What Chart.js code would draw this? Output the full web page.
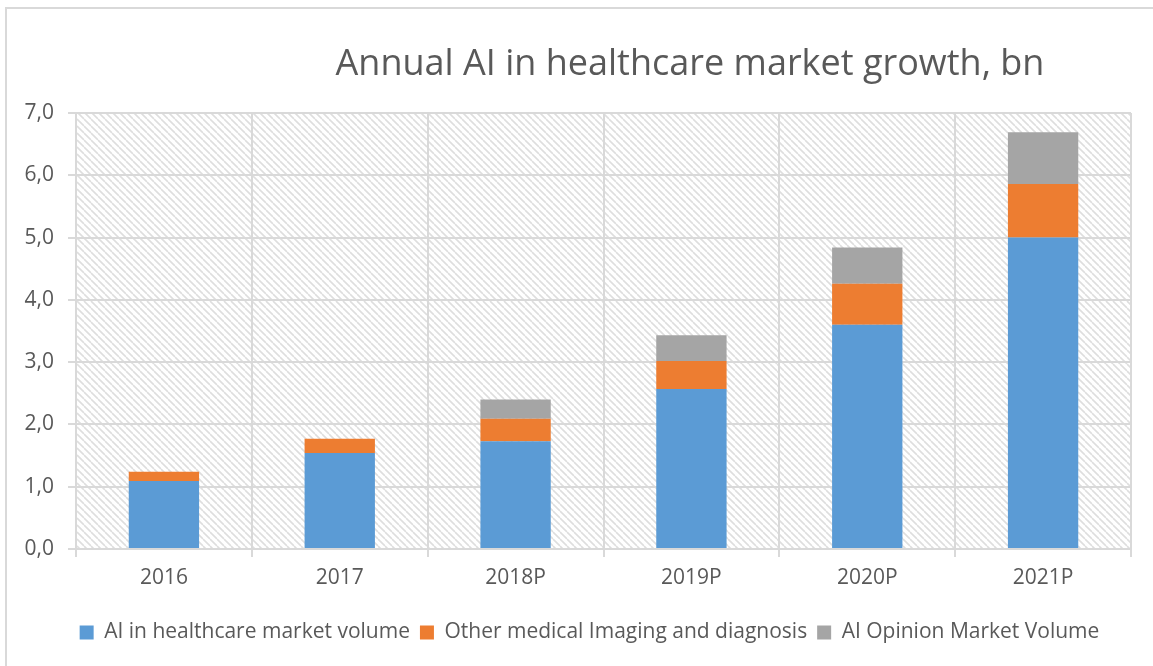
<!DOCTYPE html>
<html>
<head>
<meta charset="utf-8">
<script src="https://cdn.jsdelivr.net/npm/chart.js@4"></script>
<style>
    body { margin: 0; background: #fff; }
    #wrap { position: relative; width: 1153px; height: 666px; }
    #frame { position: absolute; left: 5px; top: 7px; right: 0; bottom: 0;
             border-left: 2px solid #d9d9d9; border-top: 2px solid #d9d9d9; }
    #marketChart { position: absolute; left: 0; top: 0; }
</style>
</head>
<body>
<div id="wrap">
    <div id="frame"></div>
    <canvas id="marketChart" width="1153" height="666"></canvas>
</div>
<script>
var chartTitle = "Annual AI in healthcare market growth, bn";
var years = ["2016", "2017", "2018P", "2019P", "2020P", "2021P"];
var healthcareVolume = [1.09, 1.54, 1.73, 2.57, 3.60, 5.00];
var imagingDiagnosis = [0.15, 0.23, 0.36, 0.45, 0.66, 0.86];
var opinionVolume = [0, 0, 0.31, 0.41, 0.58, 0.83];
var yTicks = [0, 1, 2, 3, 4, 5, 6, 7];

var textColor = '#595959';
var fontFamily = "'Open Sans', sans-serif";

// diagonal hatch like the excel plot area fill
function makeHatch() {
    var s = 7;
    var c = document.createElement('canvas');
    c.width = s; c.height = s;
    var g = c.getContext('2d');
    g.fillStyle = '#ffffff';
    g.fillRect(0, 0, s, s);
    g.strokeStyle = '#dedede';
    g.lineWidth = 1.6;
    for (var k = -s; k <= s; k += s) {
        g.beginPath();
        g.moveTo(k, 0);
        g.lineTo(k + s, s);
        g.stroke();
    }
    return g.createPattern(c, 'repeat');
}

var plotBackground = {
    id: 'plotBackground',
    afterLayout: function (chart) {
        // excel centres the legend a bit right of the canvas middle
        chart.legend.left += 24;
        chart.legend.right += 24;
    },
    beforeDraw: function (chart) {
        var a = chart.chartArea;
        var ctx = chart.ctx;
        ctx.save();
        ctx.fillStyle = makeHatch();
        ctx.fillRect(a.left, a.top, a.right - a.left, a.bottom - a.top);
        ctx.restore();
    }
};

var titleText = {
    id: 'titleText',
    afterDraw: function (chart) {
        var ctx = chart.ctx;
        ctx.save();
        ctx.font = "36px " + fontFamily;
        ctx.fillStyle = textColor;
        ctx.textAlign = 'center';
        ctx.textBaseline = 'alphabetic';
        ctx.fillText(chartTitle, 690, 75);
        ctx.restore();
    }
};

var ctx = document.getElementById('marketChart').getContext('2d');
var chart = new Chart(ctx, {
    type: 'bar',
    data: {
        labels: years,
        datasets: [{
            label: 'AI in healthcare market volume',
            data: healthcareVolume,
            backgroundColor: '#5b9bd5'
        },
        {
            label: 'Other medical Imaging and diagnosis',
            data: imagingDiagnosis,
            backgroundColor: '#ed7d31'
        },
        {
            label: 'AI Opinion Market Volume',
            data: opinionVolume,
            backgroundColor: '#a5a5a5'
        }]
    },
    options: {
        responsive: false,
        animation: false,
        categoryPercentage: 1.0,
        barPercentage: 0.4,
        layout: {
            padding: { top: 113, right: 22, left: 0, bottom: 13 }
        },
        plugins: {
            title: { display: false },
            tooltip: { enabled: false },
            legend: {
                position: 'bottom',
                labels: {
                    boxWidth: 14,
                    boxHeight: 14,
                    padding: 10,
                    color: textColor,
                    font: { family: fontFamily, size: 21 }
                }
            }
        },
        scales: {
            x: {
                stacked: true,
                grid: { color: '#d9d9d9', lineWidth: 2, tickLength: 8, offset: true },
                border: { display: false },
                ticks: {
                    color: textColor,
                    padding: 8,
                    font: { family: fontFamily, size: 21 }
                },
                afterFit: function (scale) { scale.height = 63; }
            },
            y: {
                stacked: true,
                min: 0,
                max: 7,
                grid: { color: '#d9d9d9', lineWidth: 2, tickLength: 8 },
                border: { display: false },
                afterBuildTicks: function (scale) {
                    scale.ticks = yTicks.map(function (v) { return { value: v }; });
                },
                ticks: {
                    color: textColor,
                    padding: 14,
                    font: { family: fontFamily, size: 21 },
                    callback: function (value) {
                        return value.toFixed(1).replace('.', ',');
                    }
                },
                afterFit: function (scale) { scale.width = 76; }
            }
        }
    },
    plugins: [plotBackground, titleText]
});
</script>
</body>
</html>
